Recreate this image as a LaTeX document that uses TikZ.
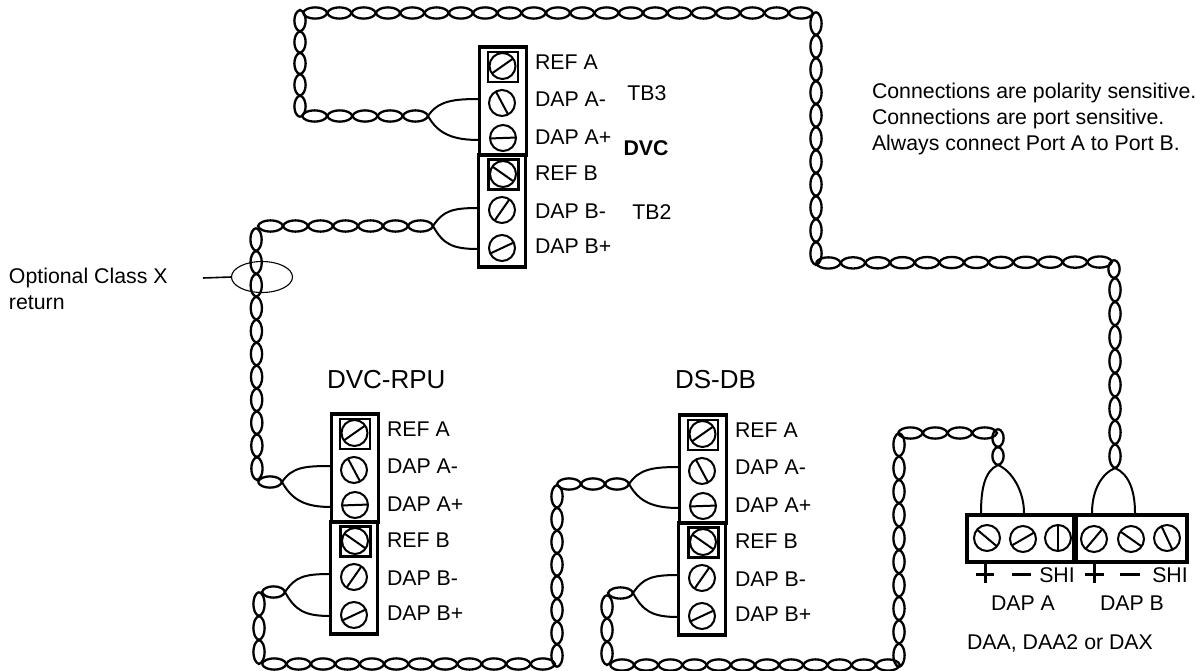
\documentclass[tikz,border=0pt]{standalone}
\usepackage{fontspec}
\setmainfont{Liberation Sans}
\usetikzlibrary{calc,shapes.geometric}
\tikzset{
  wirelens/.style={line width=2.3pt,black},
  arcwire/.style={line width=2pt,black},
  tbox/.style={draw,line width=3.2pt,inner sep=0,outer sep=0,minimum width=47,minimum height=108},
  sqbox/.style={draw,line width=2.8pt,inner sep=0,outer sep=0,minimum size=30},
  screwc/.style={draw,circle,line width=2pt,inner sep=0,outer sep=0,minimum size=26},
  slot/.style={line width=2pt},
  daabox/.style={draw,line width=3.2pt,inner sep=0,outer sep=0,minimum height=47},
  lab/.style={inner sep=0,outer sep=0,font=\fontsize{21.3}{25}\selectfont,text height=15pt,text depth=0pt},
  sign/.style={line width=3pt},
  thinl/.style={line width=1.1pt},
}
\newcommand{\twist}[3]{%
  \foreach \k in {1,...,#3}{%
    \pgfmathsetmacro\ta{(\k-1)/#3}%
    \pgfmathsetmacro\tb{\k/#3}%
    \coordinate (tp) at ($(#1)!\ta!(#2)$);
    \coordinate (tq) at ($(#1)!\tb!(#2)$);
    \draw[wirelens] (tp) .. controls ($(tp)!0.1!(tq)!7.5pt!90:(tq)$) and ($(tq)!0.1!(tp)!7.5pt!-90:(tp)$) .. (tq)
      .. controls ($(tq)!0.1!(tp)!7.5pt!90:(tp)$) and ($(tp)!0.1!(tq)!7.5pt!-90:(tq)$) .. (tp);
  }%
}
\newcommand{\screw}[4]{% name, x, y, angle
  \node[screwc] (#1) at (#2,#3) {};
  \draw[slot] (#1.#4) -- (#1.{#4+180});
}
\newcommand{\tblock}[3]{% prefix, dx, dy
  \begin{scope}[shift={(#2,#3)}]
    \node[tbox] (#1top) at (503,101) {};
    \node[tbox,minimum height=112] (#1bot) at (502,211) {};
    \node[sqbox] (#1sqa) at (503,67) {};
    \node[sqbox] (#1sqb) at (503.5,174.5) {};
    \screw{#1sa}{502.5}{66}{35}
    \screw{#1sb}{502}{103}{118}
    \screw{#1sc}{503}{138}{2}
    \screw{#1sd}{503}{174}{145}
    \screw{#1se}{502}{210}{55}
    \screw{#1sf}{502}{248}{25}
    \node[lab,anchor=west] (#1la) at (535,62) {REF A};
    \node[lab,anchor=west] (#1lb) at (535,99) {DAP A-};
    \node[lab,anchor=west] (#1lc) at (535,137) {DAP A+};
    \node[lab,anchor=west] (#1ld) at (535,173) {REF B};
    \node[lab,anchor=west] (#1le) at (535,211) {DAP B-};
    \node[lab,anchor=west] (#1lf) at (535,246) {DAP B+};
  \end{scope}
}
\newcommand{\forkh}[3]{% fork, upper end, lower end
  \draw[arcwire] (#1) .. controls +(10,-15) and +(-26,0) .. (#2);
  \draw[arcwire] (#1) .. controls +(10,18) and +(-26,0) .. (#3);
}
\newcommand{\forkv}[3]{% fork, left end, right end
  \draw[arcwire] (#1) .. controls +(-14,6) and +(0,-22) .. (#2);
  \draw[arcwire] (#1) .. controls +(14,6) and +(0,-22) .. (#3);
}
\begin{document}
\begin{tikzpicture}[x=1pt,y=-1pt]
\useasboundingbox (0,0) rectangle (1204,671);

% terminal blocks
\tblock{dvc}{0}{0}
\tblock{rpu}{-148}{367}
\tblock{ds}{200}{368}

% fork points and wire ends at the blocks
\coordinate (fa) at (428,116); \coordinate (fau) at (479,99); \coordinate (fal) at (479,140);
\coordinate (fb) at (433,226); \coordinate (fbu) at (478,208); \coordinate (fbl) at (478,249);
\coordinate (fc) at (282,482); \coordinate (fcu) at (331,466); \coordinate (fcl) at (331,507);
\coordinate (fd) at (285,592); \coordinate (fdu) at (330,574); \coordinate (fdl) at (330,616);
\coordinate (fe) at (629,484); \coordinate (feu) at (679,467); \coordinate (fel) at (679,508);
\coordinate (ff) at (633,593); \coordinate (ffu) at (678,575); \coordinate (ffl) at (678,617);
\forkh{fa}{fau}{fal}
\forkh{fb}{fbu}{fbl}
\forkh{fc}{fcu}{fcl}
\forkh{fd}{fdu}{fdl}
\forkh{fe}{feu}{fel}
\forkh{ff}{ffu}{ffl}

% DAA terminal block
\node[daabox,minimum width=107] (daaa) at (1020.5,538.5) {};
\node[daabox,minimum width=111] (daab) at (1131.5,538.5) {};
\screw{ta}{987}{538}{140}
\screw{tb}{1023}{539}{30}
\screw{tc}{1058}{538}{90}
\screw{td}{1094}{539}{50}
\screw{te}{1131}{539}{145}
\screw{tf}{1167}{538}{115}
\coordinate (fg) at (998,465); \coordinate (fgl) at (981,513); \coordinate (fgr) at (1024,513);
\coordinate (fh) at (1115,468); \coordinate (fhl) at (1092,513); \coordinate (fhr) at (1135,513);
\forkv{fg}{fgl}{fgr}
\forkv{fh}{fhl}{fhr}

% top run
\coordinate (a1) at (302,116);
\coordinate (a2) at (300,117); \coordinate (a3) at (300,10);
\coordinate (a4) at (303,13); \coordinate (a5) at (813,13);
\coordinate (a6) at (816,12); \coordinate (a7) at (816,265);
\coordinate (a8) at (816,263); \coordinate (a9) at (1112,262);
\coordinate (a10) at (1114,260); \coordinate (a11) at (1114,278);
\coordinate (a12) at (1115,278);
\twist{fa}{a1}{5}
\twist{a2}{a3}{5}
\twist{a4}{a5}{21}
\twist{a6}{a7}{11}
\twist{a8}{a9}{12}
\twist{a10}{a11}{1}
\twist{a12}{fh}{8}

% class X run
\coordinate (b1) at (258,226);
\coordinate (b2) at (256,228); \coordinate (b3) at (257,480);
\coordinate (b4) at (258,482);
\twist{fb}{b1}{7}
\twist{b2}{b3}{11}
\twist{b4}{fc}{1}

% RPU to DS-DB run
\coordinate (c1) at (262,592);
\coordinate (c2) at (259,592); \coordinate (c3) at (259,664);
\coordinate (c4) at (262,664); \coordinate (c5) at (555,664);
\coordinate (c6) at (557,667); \coordinate (c7) at (557,485);
\coordinate (c8) at (557,484);
\twist{fd}{c1}{1}
\twist{c2}{c3}{3}
\twist{c4}{c5}{12}
\twist{c6}{c7}{8}
\twist{c8}{fe}{3}

% DS-DB to DAA run
\coordinate (d1) at (608,593);
\coordinate (d2) at (607,595); \coordinate (d3) at (607,665);
\coordinate (d4) at (610,665); \coordinate (d5) at (900,665);
\coordinate (d6) at (899,667); \coordinate (d7) at (899,433);
\coordinate (d8) at (898,433); \coordinate (d9) at (997,433);
\coordinate (d10) at (998,429);
\twist{ff}{d1}{1}
\twist{d2}{d3}{3}
\twist{d4}{d5}{12}
\twist{d6}{d7}{10}
\twist{d8}{d9}{4}
\twist{d10}{fg}{2}

% optional class X marker
\node[draw,thinl,ellipse,inner sep=0,outer sep=0,minimum width=61,minimum height=31] (xring) at (262,277) {};
\coordinate (xl) at (203,278);
\draw[line width=1.6pt] (xl) -- (xring.west);

% signs
\coordinate (p1a) at (976,574); \coordinate (p1b) at (994,574);
\coordinate (p1c) at (985,563); \coordinate (p1d) at (985,583);
\coordinate (m1a) at (1012,574); \coordinate (m1b) at (1031,574);
\coordinate (p2a) at (1085,574); \coordinate (p2b) at (1104,574);
\coordinate (p2c) at (1094,563); \coordinate (p2d) at (1094,583);
\coordinate (m2a) at (1120,574); \coordinate (m2b) at (1140,574);
\draw[sign] (p1a) -- (p1b); \draw[sign] (p1c) -- (p1d);
\draw[sign] (m1a) -- (m1b);
\draw[sign] (p2a) -- (p2b); \draw[sign] (p2c) -- (p2d);
\draw[sign] (m2a) -- (m2b);

% labels
\node[lab] (shi1) at (1057,575) {SHI};
\node[lab] (shi2) at (1170,575) {SHI};
\node[lab] (dapa) at (1023,603) {DAP A};
\node[lab] (dapb) at (1132,603) {DAP B};
\node[lab] (daa) at (1060,642) {DAA, DAA2 or DAX};
\node[lab] (tb3) at (647,93) {TB3};
\node[lab,font=\fontsize{21.3}{25}\selectfont\bfseries] (dvc) at (646,148) {DVC};
\node[lab] (tb2) at (652,212) {TB2};
\node[lab,anchor=west] (opt1) at (9,276) {Optional Class X};
\node[lab,anchor=west] (opt2) at (9,302) {return};
\node[lab,anchor=west] (n1) at (872,91) {Connections are polarity sensitive.};
\node[lab,anchor=west] (n2) at (872,117) {Connections are port sensitive.};
\node[lab,anchor=west] (n3) at (872,143) {Always connect Port A to Port B.};
\node[lab,font=\fontsize{26}{30}\selectfont,text height=18pt,anchor=west] (t1) at (327,379) {DVC-RPU};
\node[lab,font=\fontsize{26}{30}\selectfont,text height=18pt,anchor=west] (t2) at (675,379) {DS-DB};
\end{tikzpicture}
\end{document}
